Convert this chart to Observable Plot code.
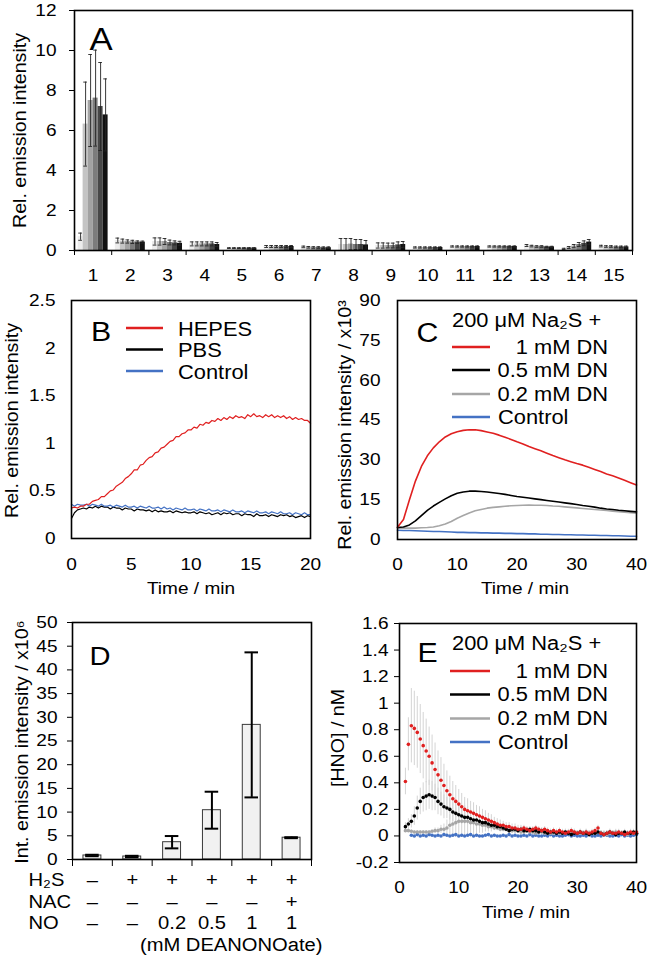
<!DOCTYPE html>
<html>
<head>
<meta charset="utf-8">
<script src="https://cdn.jsdelivr.net/npm/d3@7"></script>
<script src="https://cdn.jsdelivr.net/npm/@observablehq/plot@0.6"></script>
<style>
html,body{margin:0;padding:0;background:#fff;}
#root{position:relative;width:648px;height:960px;overflow:hidden;background:#fff;}
</style>
</head>
<body>
<div id="root"></div>
<script>
// ---------------- DATA ----------------
// Panel A
const aCategories = [1,2,3,4,5,6,7,8,9,10,11,12,13,14,15];
const aShades = ["#ececec","#c4c4c4","#a2a2a2","#7c7c7c","#474747","#111111"];
const aValues = [
  [0.69,6.32,7.50,7.62,7.20,6.78],
  [0.50,0.47,0.45,0.43,0.42,0.42],
  [0.45,0.45,0.45,0.40,0.38,0.36],
  [0.33,0.33,0.33,0.33,0.33,0.30],
  [0.12,0.12,0.12,0.12,0.12,0.12],
  [0.20,0.20,0.20,0.20,0.20,0.20],
  [0.18,0.16,0.15,0.15,0.14,0.14],
  [0.30,0.30,0.32,0.30,0.30,0.28],
  [0.25,0.25,0.25,0.25,0.28,0.30],
  [0.15,0.15,0.15,0.15,0.15,0.15],
  [0.20,0.20,0.20,0.20,0.20,0.20],
  [0.20,0.20,0.20,0.20,0.20,0.20],
  [0.25,0.22,0.20,0.20,0.18,0.18],
  [0.08,0.15,0.22,0.30,0.36,0.42],
  [0.22,0.20,0.20,0.18,0.18,0.18]
];
const aErrors = [
  [0.18,2.10,2.30,2.40,2.20,1.80],
  [0.12,0.10,0.08,0.08,0.06,0.05],
  [0.18,0.18,0.15,0.12,0.10,0.10],
  [0.10,0.10,0.10,0.10,0.10,0.10],
  [0.02,0.02,0.02,0.02,0.02,0.02],
  [0.05,0.05,0.05,0.05,0.05,0.05],
  [0.04,0.04,0.04,0.04,0.04,0.04],
  [0.30,0.30,0.28,0.25,0.25,0.22],
  [0.13,0.13,0.12,0.12,0.15,0.15],
  [0.03,0.03,0.03,0.03,0.03,0.03],
  [0.03,0.03,0.03,0.03,0.03,0.03],
  [0.03,0.03,0.03,0.03,0.03,0.03],
  [0.05,0.04,0.04,0.04,0.03,0.03],
  [0.03,0.05,0.08,0.10,0.12,0.13],
  [0.04,0.04,0.04,0.04,0.04,0.04]
];
const aYTicks = [0,2,4,6,8,10,12];
const aYLabel = "Rel. emission intensity";

// Panel B (time in min, step 0.25)
const bTime = [0,0.25,0.5,0.75,1,1.25,1.5,1.75,2,2.25,2.5,2.75,3,3.25,3.5,3.75,4,4.25,4.5,4.75,
  5,5.25,5.5,5.75,6,6.25,6.5,6.75,7,7.25,7.5,7.75,8,8.25,8.5,8.75,9,9.25,9.5,9.75,
  10,10.25,10.5,10.75,11,11.25,11.5,11.75,12,12.25,12.5,12.75,13,13.25,13.5,13.75,14,14.25,14.5,14.75,
  15,15.25,15.5,15.75,16,16.25,16.5,16.75,17,17.25,17.5,17.75,18,18.25,18.5,18.75,19,19.25,19.5,19.75,20];
const bHEPES = [0.32,0.33,0.32,0.34, 0.34,0.36,0.36,0.39, 0.40,0.41,0.44,0.44, 0.47,0.50,0.51,0.55,
  0.57,0.59,0.63,0.65, 0.68,0.72,0.72,0.77, 0.78,0.82,0.85,0.86, 0.90,0.91,0.95,0.96,
  0.99,1.02,1.03,1.07, 1.07,1.10,1.11,1.14, 1.14,1.17,1.16,1.20, 1.19,1.22,1.21,1.24,
  1.23,1.26,1.24,1.27, 1.25,1.28,1.26,1.29, 1.27,1.28,1.26,1.30, 1.28,1.31,1.28,1.29,
  1.27,1.30,1.28,1.30, 1.27,1.29,1.27,1.29, 1.26,1.28,1.25,1.27, 1.25,1.26,1.24,1.24, 1.21];
const bPBS = [0.21,0.27,0.30,0.31, 0.32,0.31,0.33,0.32, 0.34,0.32,0.34,0.33, 0.33,0.31,0.33,0.32,
  0.32,0.30,0.32,0.31, 0.31,0.29,0.31,0.30, 0.30,0.29,0.30,0.28, 0.30,0.28,0.29,0.28,
  0.28,0.29,0.27,0.29, 0.28,0.27,0.28,0.27, 0.27,0.28,0.26,0.28, 0.27,0.26,0.27,0.25,
  0.26,0.27,0.25,0.27, 0.26,0.27,0.25,0.26, 0.26,0.24,0.26,0.25, 0.25,0.23,0.26,0.24,
  0.24,0.25,0.23,0.25, 0.24,0.23,0.25,0.24, 0.25,0.23,0.24,0.22, 0.23,0.24,0.22,0.24, 0.23];
const bControl = [0.36,0.34,0.36,0.35, 0.35,0.36,0.34,0.36, 0.35,0.34,0.36,0.34, 0.34,0.35,0.33,0.35,
  0.34,0.33,0.35,0.33, 0.33,0.34,0.32,0.34, 0.33,0.32,0.34,0.32, 0.32,0.33,0.31,0.33,
  0.31,0.32,0.30,0.32, 0.31,0.30,0.32,0.30, 0.30,0.31,0.29,0.31, 0.30,0.29,0.31,0.29,
  0.29,0.30,0.28,0.30, 0.29,0.28,0.30,0.28, 0.28,0.29,0.27,0.29, 0.28,0.27,0.29,0.27,
  0.27,0.28,0.26,0.28, 0.27,0.26,0.28,0.26, 0.26,0.27,0.25,0.27, 0.26,0.25,0.27,0.25, 0.25];
const bXTicks = [0,5,10,15,20];
const bYTicks = [0,0.5,1,1.5,2,2.5];
const bLegend = ["HEPES","PBS","Control"];
const bYLabel = "Rel. emission intensity";

// Panel C
const cTime = [0,1,2,3,4,5,6,7,8,9,10,11,12,13,14,15,16,17,18,19,20,21,22,23,24,25,26,27,28,29,30,31,32,33,34,35,36,37,38,39,40];
const cDN1 = [4.6,7.5,15,22,27.5,31.5,34.5,36.8,38.6,39.8,40.6,41.1,41.3,41.3,41.0,40.5,40.0,39.3,38.5,37.7,36.8,36.0,35.0,34.2,33.4,32.5,31.6,30.8,30.0,29.3,28.6,28.0,27.2,26.4,25.6,24.7,24.0,23.2,22.3,21.4,20.5];
const cDN05 = [4.5,4.7,5.5,7,9,11,12.6,14,15.3,16.5,17.4,17.9,18.2,18.2,18.1,17.9,17.6,17.3,17.0,16.6,16.2,15.9,15.6,15.3,15.0,14.7,14.4,14.1,13.8,13.5,13.2,12.8,12.5,12.2,11.8,11.5,11.3,11.0,10.8,10.6,10.4];
const cDN02 = [4.3,4.3,4.3,4.3,4.4,4.5,4.7,5.2,5.8,6.8,8,9,10,10.8,11.3,11.8,12.1,12.3,12.5,12.7,12.8,12.9,13,12.9,12.9,12.8,12.6,12.5,12.3,12.1,11.9,11.7,11.5,11.3,11.1,10.9,10.7,10.5,10.3,10.1,9.9];
const cControl = [3.5,3.4,3.4,3.3,3.2,3.1,3.0,3.0,2.9,2.8,2.7,2.7,2.6,2.6,2.5,2.5,2.4,2.4,2.3,2.3,2.2,2.2,2.1,2.1,2.0,2.0,1.9,1.9,1.8,1.8,1.7,1.7,1.6,1.6,1.5,1.5,1.4,1.4,1.3,1.2,1.2];
const cXTicks = [0,10,20,30,40];
const cYTicks = [0,15,30,45,60,75,90];
const cYLabel = "Rel. emission intensity / x10³";
const legendTitle = "200 μM Na₂S +";
const dnLegend = ["1 mM DN","0.5 mM DN","0.2 mM DN","Control"];

// Panel D
const dPos = [1,2,3,4,5,6];
const dValues = [0.85,0.63,3.65,10.4,28.4,4.6];
const dErrors = [0.15,0.15,1.3,3.9,15.3,0.1];
const dH2S = ["–","+","+","+","+","+"];
const dNAC = ["–","–","–","–","–","+"];
const dNO  = ["–","–","0.2","0.5","1","1"];
const dRowLabels = ["H₂S","NAC","NO"];
const dNote = "(mM DEANONOate)";
const dYTicks = [0,5,10,15,20,25,30,35,40,45,50];
const dYLabel = "Int. emission intensity / x10⁶";

// Panel E
const eTime = [1,1.5,2,2.5,3,3.5,4,4.5,5,5.5,6,6.5,7,7.5,8,8.5,9,9.5,10,10.5,11,11.5,12,12.5,13,13.5,14,14.5,15,15.5,16,16.5,17,17.5,18,18.5,19,19.5,20,20.5,21,21.5,22,22.5,23,23.5,24,24.5,25,25.5,26,26.5,27,27.5,28,28.5,29,29.5,30,30.5,31,31.5,32,32.5,33,33.5,34,34.5,35,35.5,36,36.5,37,37.5,38,38.5,39,39.5,40];
const eDN1 = [0.41,0.69,0.83,0.81,0.78,0.73,0.68,0.64,0.60,0.55,
  0.50,0.46,0.42,0.38,0.34,0.31,0.28,0.26,0.24,0.22,
  0.20,0.19,0.18,0.17,0.16,0.15,0.14,0.13,0.12,0.11,
  0.10,0.09,0.08,0.08,0.07,0.07,0.06,0.06,0.05,0.05,
  0.06,0.05,0.04,0.05,0.06,0.05,0.04,0.05,0.04,0.03,
  0.04,0.03,0.04,0.03,0.02,0.03,0.04,0.03,0.02,0.03,
  0.02,0.03,0.02,0.03,0.04,0.06,0.02,0.01,0.02,0.03,
  0.02,0.02,0.03,0.02,0.01,0.02,0.03,0.02,0.03];
const eErr1 = [0.10,0.20,0.28,0.28,0.27,0.26,0.25,0.24,0.22,0.21,
  0.20,0.18,0.17,0.16,0.15,0.14,0.13,0.12,0.11,0.10,
  0.09,0.09,0.08,0.08,0.07,0.07,0.06,0.06,0.05,0.05,
  0.04,0.04,0.04,0.03,0.03,0.03,0.03,0.03,0.03,0.03,
  0.02,0.02,0.02,0.02,0.02,0.02,0.02,0.02,0.02,0.02,
  0.02,0.02,0.02,0.02,0.02,0.02,0.02,0.02,0.02,0.02,
  0.02,0.02,0.02,0.02,0.02,0.02,0.02,0.02,0.02,0.02,
  0.02,0.02,0.02,0.02,0.02,0.02,0.02,0.02,0.02];
const eDN05 = [0.07,0.09,0.11,0.15,0.21,0.26,0.29,0.30,0.31,0.30,
  0.29,0.26,0.24,0.22,0.21,0.20,0.18,0.17,0.16,0.15,
  0.14,0.14,0.13,0.12,0.12,0.11,0.10,0.10,0.09,0.08,
  0.08,0.07,0.07,0.06,0.05,0.04,0.05,0.05,0.04,0.05,
  0.04,0.04,0.05,0.04,0.04,0.03,0.04,0.03,0.02,0.03,
  0.03,0.02,0.03,0.02,0.03,0.02,0.01,0.02,0.02,0.03,
  0.02,0.02,0.01,0.02,0.02,0.03,0.02,0.01,0.02,0.03,
  0.02,0.01,0.02,0.02,0.03,0.02,0.02,0.03,0.02];
const eErr05 = [0.03,0.04,0.05,0.07,0.09,0.10,0.11,0.11,0.11,0.11,
  0.10,0.10,0.09,0.09,0.08,0.08,0.07,0.07,0.06,0.06,
  0.05,0.05,0.05,0.04,0.04,0.04,0.03,0.03,0.03,0.03,
  0.02,0.02,0.02,0.02,0.02,0.02,0.02,0.02,0.02,0.02,
  0.02,0.02,0.02,0.02,0.02,0.02,0.02,0.02,0.02,0.02,
  0.02,0.02,0.02,0.02,0.02,0.02,0.02,0.02,0.02,0.02,
  0.02,0.02,0.02,0.02,0.02,0.02,0.02,0.02,0.02,0.02,
  0.02,0.02,0.02,0.02,0.02,0.02,0.02,0.02,0.02];
const eDN02 = [0.04,0.04,0.035,0.03,0.03,0.03,0.03,0.03,0.03,0.035,
  0.04,0.04,0.05,0.05,0.06,0.08,0.09,0.10,0.11,0.11,
  0.11,0.11,0.10,0.10,0.09,0.09,0.08,0.08,0.07,0.07,
  0.06,0.06,0.05,0.05,0.05,0.04,0.04,0.04,0.04,0.03,
  0.03,0.04,0.03,0.03,0.02,0.03,0.03,0.02,0.03,0.02,
  0.02,0.03,0.02,0.02,0.03,0.02,0.02,0.03,0.02,0.02,
  0.02,0.03,0.02,0.02,0.02,0.03,0.02,0.02,0.01,0.02,
  0.02,0.03,0.02,0.02,0.02,0.01,0.02,0.02,0.02];
const eErr02 = [0.01,0.01,0.01,0.01,0.01,0.01,0.01,0.01,0.01,0.01,
  0.02,0.02,0.03,0.04,0.06,0.08,0.10,0.11,0.12,0.12,
  0.12,0.11,0.10,0.09,0.08,0.07,0.06,0.05,0.04,0.04,
  0.02,0.02,0.02,0.02,0.02,0.02,0.02,0.02,0.02,0.02,
  0.02,0.02,0.02,0.02,0.02,0.02,0.02,0.02,0.02,0.02,
  0.02,0.02,0.02,0.02,0.02,0.02,0.02,0.02,0.02,0.02,
  0.02,0.02,0.02,0.02,0.02,0.02,0.02,0.02,0.02,0.02,
  0.02,0.02,0.02,0.02,0.02,0.02,0.02,0.02,0.02];
const eControl = [null,null,0.005,0.0,0.01,0.0,0.005,0.0,0.01,0.005,
  0.0,0.005,0.0,0.01,0.005,0.0,0.005,0.01,0.0,0.005,
  0.0,0.005,0.01,0.0,0.005,0.0,0.0,0.005,0.01,0.0,
  0.005,0.0,0.0,0.005,0.0,0.01,0.0,0.005,0.0,0.0,
  0.005,0.0,0.01,0.0,0.005,0.0,0.0,0.005,0.0,0.01,
  0.0,0.005,0.0,0.0,0.005,0.01,0.0,0.005,0.0,0.0,
  0.005,0.0,0.01,0.0,0.0,0.005,0.0,0.01,0.005,0.0,
  0.0,0.005,0.0,0.01,0.0,0.005,0.0,0.005,0.01];
const eXTicks = [0,10,20,30,40];
const eYTicks = [-0.2,0,0.2,0.4,0.6,0.8,1,1.2,1.4,1.6];
const eYLabel = "[HNO] / nM";
const xLabel = "Time / min";
const panelLetters = ["A","B","C","D","E"];

// ---------------- STYLE ----------------
const RED = "#e02020", BLUE = "#4472c4", GREY = "#a6a6a6", BLACK = "#000000";
const FONT = '"Liberation Sans", Arial, Helvetica, sans-serif';
const STRETCH = 1.12;
const root = document.getElementById("root");

function frameOpts(l, r, t, b) {
  return {
    width: 648, height: 960,
    marginLeft: l, marginRight: 648 - r, marginTop: t, marginBottom: 960 - b,
    style: {fontFamily: FONT, fontSize: "17px", color: "black", background: "transparent",
            position: "absolute", left: "0px", top: "0px", overflow: "visible", maxWidth: "none"}
  };
}
const fmt = d => String(Math.round(d * 10) / 10);
const frame = () => Plot.frame({stroke: "black", strokeWidth: 1.6});
const C = {textAnchor: "middle", lineAnchor: "middle"};
const yLab = (label, dx, dy) => Plot.text([label], {...C, frameAnchor: "left", dx, dy, rotate: -90, fontSize: 17.5, text: d => d});
const xLab = (dx, dy) => Plot.text([xLabel], {...C, frameAnchor: "bottom", dx, dy, text: d => d});

// ---------------- PANEL A ----------------
const aBarW = 0.1344;
const aBars = [];
aCategories.forEach((g, i) => aShades.forEach((c, k) => {
  const x1 = g - 0.403 + k * aBarW;
  aBars.push({x1, x2: x1 + aBarW, xc: x1 + aBarW / 2, v: aValues[i][k], e: aErrors[i][k], fill: c});
}));
const aBounds = [...aCategories.map(g => g - 0.5), aCategories[aCategories.length - 1] + 0.5];
root.append(Plot.plot({
  ...frameOpts(74, 632, 10, 250),
  x: {domain: [0.5, 15.5], label: null},
  y: {domain: [0, 12], label: null},
  color: {type: "identity"},
  marks: [
    Plot.rect(aBars, {x1: "x1", x2: "x2", y1: 0, y2: "v", fill: "fill"}),
    Plot.ruleX(aBars, {x: "xc", y1: d => d.v - d.e, y2: d => d.v + d.e, stroke: "#222", strokeWidth: 0.9}),
    Plot.ruleY(aBars, {y: d => d.v + d.e, x1: d => d.xc - 0.05, x2: d => d.xc + 0.05, stroke: "#222", strokeWidth: 0.9}),
    Plot.ruleY(aBars, {y: d => d.v - d.e, x1: d => d.xc - 0.05, x2: d => d.xc + 0.05, stroke: "#222", strokeWidth: 0.9}),
    frame(),
    Plot.axisY({ticks: aYTicks, tickSize: 5, tickPadding: 13, tickFormat: fmt, label: null}),
    Plot.axisX({ticks: aCategories, tickSize: 0, tickPadding: 18, tickFormat: d => String(d), label: null}),
    Plot.axisX({ticks: aBounds, tickSize: 5, tickFormat: () => "", label: null}),
    yLab(aYLabel, -54, 0)
  ]
}));

// ---------------- PANEL B ----------------
const bSeries = [
  {name: "PBS", color: BLACK, values: bPBS},
  {name: "Control", color: BLUE, values: bControl},
  {name: "HEPES", color: RED, values: bHEPES}
];
const bData = bSeries.flatMap(s => bTime.map((t, i) => ({t, v: s.values[i], name: s.name, color: s.color})));
root.append(Plot.plot({
  ...frameOpts(71, 310, 300, 538),
  x: {domain: [0, 20], label: null},
  y: {domain: [0, 2.5], label: null},
  color: {type: "identity"},
  marks: [
    Plot.line(bData, {x: "t", y: "v", z: "name", stroke: "color", strokeWidth: 1.2}),
    frame(),
    Plot.axisY({ticks: bYTicks, tickSize: 0, tickPadding: 16, tickFormat: fmt, label: null}),
    Plot.axisX({ticks: bXTicks, tickSize: 0, tickPadding: 19, tickFormat: fmt, label: null}),
    yLab(bYLabel, -59, 1),
    xLab(0, 50)
  ]
}));

// ---------------- PANEL C ----------------
const cSeries = [
  {name: "Control", color: BLUE, values: cControl},
  {name: "0.2", color: GREY, values: cDN02},
  {name: "0.5", color: BLACK, values: cDN05},
  {name: "1", color: RED, values: cDN1}
];
const cData = cSeries.flatMap(s => cTime.map((t, i) => ({t, v: s.values[i], name: s.name, color: s.color})));
root.append(Plot.plot({
  ...frameOpts(397, 636, 300, 539),
  x: {domain: [0, 40], label: null},
  y: {domain: [0, 90], label: null},
  color: {type: "identity"},
  marks: [
    Plot.line(cData, {x: "t", y: "v", z: "name", stroke: "color", strokeWidth: 1.6}),
    frame(),
    Plot.axisY({ticks: cYTicks, tickSize: 0, tickPadding: 17, tickFormat: fmt, label: null}),
    Plot.axisX({ticks: cXTicks, tickSize: 0, tickPadding: 18, tickFormat: fmt, label: null}),
    yLab(cYLabel, -52, 5),
    xLab(8, 49)
  ]
}));

// ---------------- PANEL D ----------------
const dBarHalf = 0.225, dCapHalf = 0.17;
const dData = dPos.map((p, i) => ({p, v: dValues[i], e: dErrors[i], h2s: dH2S[i], nac: dNAC[i], no: dNO[i]}));
const dBounds = [...dPos.map(p => p - 0.5), dPos[dPos.length - 1] + 0.5];
const dRowDy = [21, 43, 64];
root.append(Plot.plot({
  ...frameOpts(72, 311, 622, 859),
  x: {domain: [0.5, 6.5], label: null},
  y: {domain: [0, 50], label: null},
  marks: [
    Plot.rect(dData, {x1: d => d.p - dBarHalf, x2: d => d.p + dBarHalf, y1: 0, y2: "v", fill: "#f1f1f1", stroke: "#3a3a3a", strokeWidth: 1}),
    Plot.ruleX(dData, {x: "p", y1: d => d.v - d.e, y2: d => d.v + d.e, stroke: "black", strokeWidth: 2}),
    Plot.ruleY(dData, {y: d => d.v + d.e, x1: d => d.p - dCapHalf, x2: d => d.p + dCapHalf, stroke: "black", strokeWidth: 2}),
    Plot.ruleY(dData, {y: d => d.v - d.e, x1: d => d.p - dCapHalf, x2: d => d.p + dCapHalf, stroke: "black", strokeWidth: 2}),
    frame(),
    Plot.axisY({ticks: dYTicks, tickSize: 5, tickPadding: 10, tickFormat: fmt, label: null}),
    Plot.axisX({ticks: dBounds, tickSize: 7, tickFormat: () => "", label: null}),
    Plot.text(dData, {...C, x: "p", text: "h2s", frameAnchor: "bottom", dy: dRowDy[0], fontSize: 18}),
    Plot.text(dData, {...C, x: "p", text: "nac", frameAnchor: "bottom", dy: dRowDy[1], fontSize: 18}),
    Plot.text(dData, {...C, x: "p", text: "no", frameAnchor: "bottom", dy: dRowDy[2], fontSize: 18}),
    ...dRowLabels.map((lab, i) => Plot.text([lab], {frameAnchor: "bottom-left", dx: -44, dy: dRowDy[i],
      textAnchor: "start", lineAnchor: "middle", fontSize: 18, text: d => d})),
    Plot.text([dNote], {frameAnchor: "bottom-right", dx: 11, dy: 86, textAnchor: "end", lineAnchor: "middle", fontSize: 18, text: d => d}),
    yLab(dYLabel, -50, 1)
  ]
}));

// ---------------- PANEL E ----------------
const eSeries = [
  {name: "Control", color: BLUE, values: eControl, err: null},
  {name: "0.2", color: GREY, values: eDN02, err: eErr02},
  {name: "0.5", color: BLACK, values: eDN05, err: eErr05},
  {name: "1", color: RED, values: eDN1, err: eErr1}
];
const eDots = eSeries.flatMap(s => eTime.map((t, i) => ({t, v: s.values[i], e: s.err ? s.err[i] : 0, color: s.color})))
  .filter(d => d.v !== null && d.v !== undefined);
const eBars = eDots.filter(d => d.e > 0);
root.append(Plot.plot({
  ...frameOpts(399, 636, 623, 862),
  x: {domain: [0, 40], label: null},
  y: {domain: [-0.2, 1.6], label: null},
  color: {type: "identity"},
  marks: [
    Plot.ruleX(eBars, {x: "t", y1: d => d.v - d.e, y2: d => d.v + d.e, stroke: "#d4d4d4", strokeWidth: 1}),
    Plot.dot(eDots, {x: "t", y: "v", r: 1.8, fill: "color"}),
    frame(),
    Plot.axisY({ticks: eYTicks, tickSize: 5, tickPadding: 6, tickFormat: fmt, label: null}),
    Plot.axisX({ticks: eXTicks, tickSize: 0, tickPadding: 18, tickFormat: fmt, label: null}),
    yLab(eYLabel, -61, -5),
    xLab(8, 50)
  ]
}));

// ---------------- LEGENDS & PANEL LETTERS ----------------
const ov = d3.select(root).append("svg")
  .attr("width", 648).attr("height", 960)
  .style("position", "absolute").style("left", "0px").style("top", "0px")
  .attr("font-family", FONT);
function addText(x, y, txt, size, anchor) {
  ov.append("text").attr("x", x).attr("y", y).attr("dy", "0.35em")
    .attr("font-size", size).attr("text-anchor", anchor).attr("fill", "black").text(txt);
}
function addSwatch(x1, x2, y, color) {
  ov.append("line").attr("x1", x1).attr("x2", x2).attr("y1", y).attr("y2", y)
    .attr("stroke", color).attr("stroke-width", 2.5);
}
const letterPos = [[101, 39, 31], [101, 332, 27], [427.5, 333, 27], [100, 656, 26], [427.5, 653, 27]];
panelLetters.forEach((L, i) => addText(letterPos[i][0], letterPos[i][1], L, letterPos[i][2], "middle"));
const bLegColors = [RED, BLACK, BLUE];
const bLegY = [329, 350.5, 372];
bLegend.forEach((lab, i) => { addSwatch(126, 163, bLegY[i] - 1, bLegColors[i]); addText(178, bLegY[i], lab, 19.5, "start"); });
const dnColors = [RED, BLACK, GREY, BLUE];
function dnLegendAt(titleY, rowsY, lx1) {
  addText(452, titleY, legendTitle, 19.5, "start");
  dnLegend.forEach((lab, i) => {
    addSwatch(lx1, 490, rowsY[i], dnColors[i]);
    if (i < 3) addText(608, rowsY[i], lab, 19.5, "end");
    else addText(498, rowsY[i], lab, 19.5, "start");
  });
}
dnLegendAt(320, [347, 370, 394, 417], 452);
dnLegendAt(643.5, [671, 694.5, 718.5, 742], 450);

// horizontal glyph stretch to match reference typeface proportions
root.querySelectorAll("svg text").forEach(t => {
  const len = t.getComputedTextLength();
  if (len > 0) {
    t.setAttribute("textLength", (len * STRETCH).toFixed(2));
    t.setAttribute("lengthAdjust", "spacingAndGlyphs");
  }
});
</script>
</body>
</html>
